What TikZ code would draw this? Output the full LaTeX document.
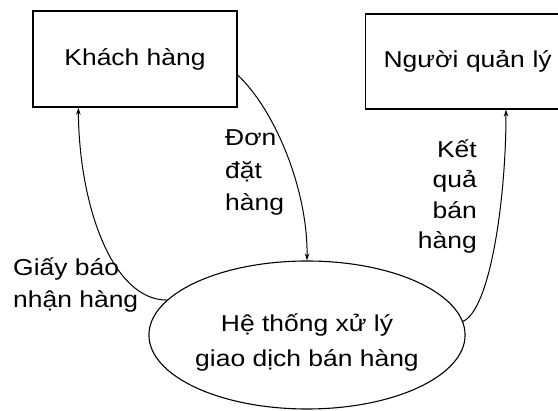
\documentclass[tikz,border=0pt]{standalone}
\usepackage{fontspec}
\setmainfont{Liberation Sans}[FakeStretch=1.15]
\usetikzlibrary{arrows.meta,shapes.geometric}
\begin{document}
\begin{tikzpicture}[x=1pt,y=-1pt,
  every node/.style={font=\fontsize{23pt}{32.5pt}\selectfont},
  boxnode/.style={draw,line width=1.3pt,rectangle,inner sep=0pt},
  procnode/.style={draw,line width=1.1pt,ellipse,inner sep=0pt,minimum width=250pt,minimum height=148pt,align=center,font=\fontsize{23pt}{35pt}\selectfont},
  flowlabel/.style={inner sep=0pt},
  flow/.style={line width=1pt,-{Stealth[length=7pt,width=4.5pt]}}]
\useasboundingbox (0,0) rectangle (558,411);
\clip (0,0) rectangle (558,411);
\node[boxnode,minimum width=204pt,minimum height=96pt] (kh) at (135,59) {Khách hàng};
\node[boxnode,anchor=west,minimum height=95pt,inner xsep=18pt,text width=194pt,align=left] (ql) at (365,61.5) {Người quản lý};
\node[procnode] (sys) at (307,335) {\rule{0pt}{32pt}Hệ thống xử lý\\giao dịch bán hàng};
\draw[flow] ([yshift=-16pt]kh.east) .. controls (275,110) and (308,190) .. (sys.north);
\draw[flow] (sys.166) .. controls (112,300) and (79,205) .. ([xshift=46pt]kh.south west);
\draw[flow] (sys.5.6) .. controls (490,310) and (506,200) .. ([xshift=141pt]ql.south west);
\node[flowlabel,anchor=base west,align=left] (l1) at (225,211) {Đơn\\đặt\\hàng};
\node[flowlabel,anchor=base west,align=left] (l2) at (13,308) {Giấy báo\\nhận hàng};
\node[flowlabel,anchor=base east,align=right,font=\fontsize{23pt}{30.5pt}\selectfont] (l3) at (477,249) {Kết\\quả\\bán\\hàng};
\end{tikzpicture}
\end{document}
